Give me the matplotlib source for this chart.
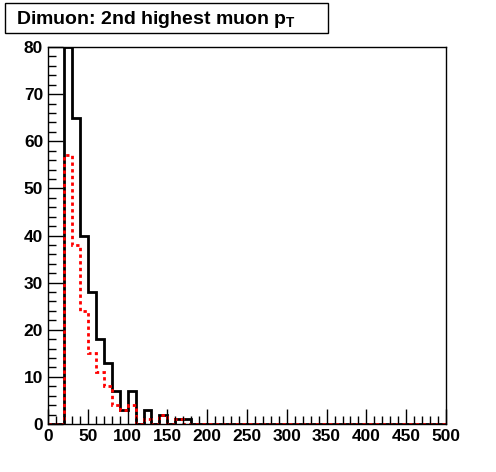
import numpy as np
import matplotlib.pyplot as plt
from matplotlib.patches import Rectangle
from matplotlib.ticker import MultipleLocator

plt.rcParams['font.family'] = ['Liberation Sans', 'DejaVu Sans']
plt.rcParams['font.weight'] = 'bold'

# 50 bins of 10 GeV from 0 to 500
edges = np.arange(0, 510, 10)
black_counts = [0, 0, 80, 65, 40, 28, 18, 13, 7, 3, 7, 0, 3, 0, 2, 0, 1, 1] + [0] * 32
red_counts = [0, 0, 57, 38, 24, 15, 11, 8, 4, 3, 4, 0, 1, 0, 2, 0, 1, 0] + [0] * 32
title = "Dimuon: 2nd highest muon p$_\\mathregular{T}$"

fig = plt.figure(figsize=(4.96, 4.72), dpi=100)
ax = fig.add_axes([48 / 496, 48 / 472, 398 / 496, 377 / 472])

ax.stairs(black_counts, edges, color='black', linewidth=2, baseline=0)
ax.stairs(red_counts, edges, color='red', linewidth=2, linestyle=(0, (1.2, 1.2)), baseline=0)

ax.set_xlim(0, 500)
ax.set_ylim(0, 80)
ax.xaxis.set_major_locator(MultipleLocator(50))
ax.xaxis.set_minor_locator(MultipleLocator(10))
ax.yaxis.set_major_locator(MultipleLocator(10))
ax.yaxis.set_minor_locator(MultipleLocator(2))
ax.tick_params(which='both', direction='in', top=False, right=False, width=1, labelsize=12.5)
ax.tick_params(which='major', length=11)
ax.tick_params(which='minor', length=6)
for lab in ax.get_xticklabels() + ax.get_yticklabels():
    lab.set_fontweight('bold')
for s in ax.spines.values():
    s.set_linewidth(1)

# title box, ROOT style
fig.patches.append(Rectangle((5 / 496, (472 - 33) / 472), 323 / 496, 30 / 472,
                             transform=fig.transFigure, facecolor='white',
                             edgecolor='black', linewidth=1))
fig.text(16 / 496, (472 - 19) / 472, title, fontsize=14, fontweight='bold', va='center', ha='left')

fig.savefig('out.png', dpi=100)
